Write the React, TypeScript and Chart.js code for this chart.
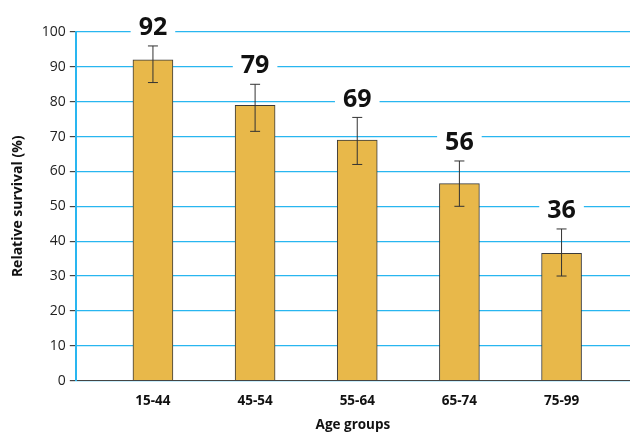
import React, { useEffect, useRef } from 'react';
import { Chart, registerables } from 'chart.js';

Chart.register(...registerables);

const categories = ['15-44', '45-54', '55-64', '65-74', '75-99'];
const survival = [92, 79, 69, 56.5, 36.5];
const lowerCI = [85.5, 71.5, 62, 50, 30];
const upperCI = [96, 85, 75.5, 63, 43.5];
const valueLabels = ['92', '79', '69', '56', '36'];

const overlayPlugin = {
    id: 'overlay',
    afterDatasetsDraw(chart: any) {
        const { ctx, scales } = chart;
        const x = scales.x;
        const y = scales.y;
        ctx.save();
        survival.forEach((v, i) => {
            const cx = x.getPixelForValue(i + 1);
            // error bar
            ctx.strokeStyle = '#333';
            ctx.lineWidth = 1;
            ctx.beginPath();
            ctx.moveTo(cx, y.getPixelForValue(lowerCI[i]));
            ctx.lineTo(cx, y.getPixelForValue(upperCI[i]));
            ctx.moveTo(cx - 5, y.getPixelForValue(lowerCI[i]));
            ctx.lineTo(cx + 5, y.getPixelForValue(lowerCI[i]));
            ctx.moveTo(cx - 5, y.getPixelForValue(upperCI[i]));
            ctx.lineTo(cx + 5, y.getPixelForValue(upperCI[i]));
            ctx.stroke();
            // value label
            ctx.font = 'bold 25px "Open Sans", sans-serif';
            const ly = y.getPixelForValue(upperCI[i]) - 18;
            const w = ctx.measureText(valueLabels[i]).width;
            ctx.fillStyle = '#fff';
            ctx.fillRect(cx - w / 2 - 8, ly - 14, w + 16, 28);
            ctx.fillStyle = '#111';
            ctx.textAlign = 'center';
            ctx.textBaseline = 'middle';
            ctx.fillText(valueLabels[i], cx, ly);
        });
        ctx.restore();
    },
};

const App: React.FC = () => {
    const canvasRef = useRef<HTMLCanvasElement | null>(null);

    useEffect(() => {
        document.body.style.margin = '0';
        if (!canvasRef.current) return;
        const chart = new Chart(canvasRef.current, {
            type: 'bar',
            data: {
                datasets: [{
                    data: survival.map((v, i) => ({ x: i + 1, y: v })),
                    backgroundColor: '#e8b84a',
                    borderColor: '#3a3a3a',
                    borderWidth: 1,
                    barThickness: 40,
                }],
            },
            options: {
                animation: false,
                responsive: false,
                layout: { padding: { top: 32, right: 0, left: 10, bottom: 0 } },
                plugins: { legend: { display: false }, tooltip: { enabled: false } },
                scales: {
                    x: {
                        type: 'linear',
                        offset: false,
                        min: 0.245,
                        max: 5.67,
                        afterBuildTicks: (axis: any) => {
                            axis.ticks = categories.map((_, i) => ({ value: i + 1 }));
                        },
                        ticks: {
                            callback: (v: any) => categories[Number(v) - 1] ?? '',
                            color: '#111',
                            font: { size: 13.5, weight: 'bold', family: '"Open Sans", sans-serif' },
                            padding: 4,
                        },
                        grid: { display: false },
                        border: { color: '#444' },
                        title: {
                            display: true,
                            text: 'Age groups',
                            color: '#111',
                            padding: { top: 4, bottom: 0 },
                            font: { size: 13.5, weight: 'bold', family: '"Open Sans", sans-serif' },
                        },
                    },
                    y: {
                        min: 0,
                        max: 100,
                        ticks: {
                            stepSize: 10,
                            color: '#222',
                            font: { size: 14, family: '"Open Sans", sans-serif' },
                            padding: 4,
                        },
                        grid: { color: '#29b6f0', tickColor: '#444', tickLength: 6, lineWidth: 1.2 },
                        border: { color: '#29b6f0', width: 2 },
                        title: {
                            display: true,
                            text: 'Relative survival (%)',
                            color: '#111',
                            padding: { top: 0, bottom: 11 },
                            font: { size: 14, weight: 'bold', family: '"Open Sans", sans-serif' },
                        },
                    },
                },
            } as any,
            plugins: [overlayPlugin],
        });
        return () => chart.destroy();
    }, []);

    return <canvas ref={canvasRef} width={630} height={433} />;
};

export default App;
